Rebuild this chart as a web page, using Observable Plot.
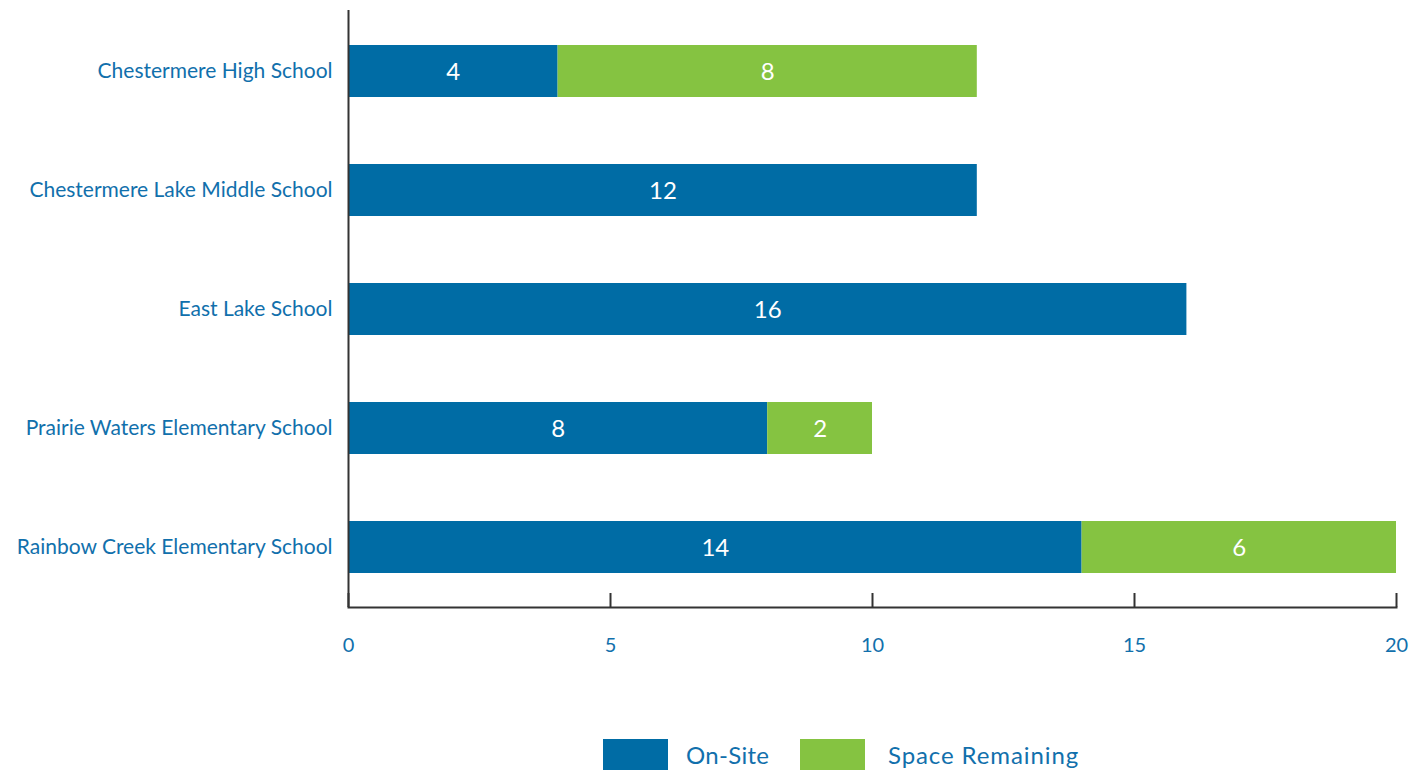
<!DOCTYPE html>
<html>
<head>
<meta charset="utf-8">
<script src="https://cdn.jsdelivr.net/npm/d3@7"></script>
<script src="https://cdn.jsdelivr.net/npm/@observablehq/plot@0.6"></script>
<style>
  html, body { margin: 0; padding: 0; background: #fff; }
  #chart { position: relative; width: 1426px; }
  .legend { position: relative; width: 1426px; height: 40px; margin-top: 19px; font-family: Lato, "Noto Sans", sans-serif; }
  .sw { position: absolute; top: 0; width: 65px; height: 40px; }
  .lt { position: absolute; top: 2px; font-size: 24px; color: #1170ac; line-height: 28px; letter-spacing: 0.3px; }
</style>
</head>
<body>
<div id="chart"></div>
<div class="legend">
  <div class="sw" style="left:603px;background:#006ca5"></div>
  <div class="lt" style="left:686px">On-Site</div>
  <div class="sw" style="left:800px;background:#85c341"></div>
  <div class="lt" style="left:888px;letter-spacing:0.9px">Space Remaining</div>
</div>
<script>
const schools = [
  "Chestermere High School",
  "Chestermere Lake Middle School",
  "East Lake School",
  "Prairie Waters Elementary School",
  "Rainbow Creek Elementary School"
];
const onSite = [4, 12, 16, 8, 14];
const spaceRemaining = [8, 0, 0, 2, 6];
const seriesNames = ["On-Site", "Space Remaining"];
const seriesColors = ["#006ca5", "#85c341"];
const xTicks = [0, 5, 10, 15, 20];

const data = [];
schools.forEach((s, i) => {
  data.push({school: s, series: seriesNames[0], value: onSite[i]});
  data.push({school: s, series: seriesNames[1], value: spaceRemaining[i]});
});
const nonZero = data.filter(d => d.value > 0);

const labelColor = "#1170ac";

const chart = Plot.plot({
  width: 1426,
  height: 720,
  marginLeft: 348,
  marginRight: 30,
  marginTop: 10,
  marginBottom: 113,
  style: {fontFamily: "Lato, 'Noto Sans', sans-serif", background: "#fff"},
  x: {domain: [0, 20], ticks: xTicks},
  y: {domain: schools, paddingInner: 0.565, paddingOuter: 0.2825},
  color: {domain: seriesNames, range: seriesColors},
  marks: [
    Plot.barX(nonZero, Plot.stackX({x: "value", y: "school", fill: "series", order: seriesNames})),
    Plot.text(nonZero, Plot.stackX({x: "value", y: "school", text: d => String(d.value), z: "series", order: seriesNames, fill: "white", fontSize: 24, dy: 1})),
    Plot.ruleX(xTicks, {x: d => d, insetTop: 583, stroke: "#333", strokeWidth: 2}),
    Plot.ruleX([0], {stroke: "#333", strokeWidth: 2}),
    Plot.frame({anchor: "bottom", stroke: "#333", strokeWidth: 2}),
    Plot.axisX({ticks: xTicks, tickSize: 0, tickPadding: 30, fontSize: 20, color: labelColor, label: null, tickFormat: d => String(d)}),
    Plot.axisY({tickSize: 0, tickPadding: 16, fontSize: 21, color: labelColor, label: null})
  ]
});
document.getElementById("chart").appendChild(chart);
</script>
</body>
</html>
